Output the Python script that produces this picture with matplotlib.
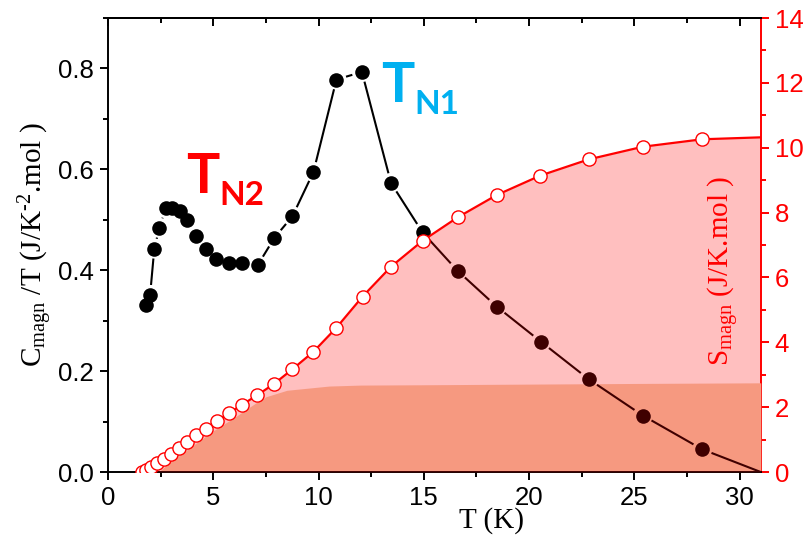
import numpy as np
import matplotlib
matplotlib.use("Agg")
import matplotlib.pyplot as plt
from matplotlib.collections import LineCollection
from matplotlib.ticker import MultipleLocator, FormatStrFormatter

# Magnetic specific heat C/T (left axis)
T_C = [1.79, 2.00, 2.20, 2.44, 2.74, 3.06, 3.41, 3.77, 4.17, 4.64, 5.15, 5.75,
       6.38, 7.11, 7.90, 8.76, 9.76, 10.85, 12.06, 13.44, 14.94, 16.60, 18.46,
       20.57, 22.83, 25.40, 28.22]
C_over_T = [0.331, 0.351, 0.443, 0.484, 0.523, 0.523, 0.518, 0.499, 0.468, 0.443,
            0.422, 0.414, 0.414, 0.410, 0.464, 0.507, 0.595, 0.778, 0.793, 0.573,
            0.475, 0.399, 0.328, 0.258, 0.184, 0.112, 0.045]
T_C_end, C_end = 31.0, 0.0

# Magnetic entropy (right axis)
T_S = [1.63, 1.82, 2.06, 2.35, 2.66, 3.00, 3.35, 3.74, 4.17, 4.64, 5.16, 5.74,
       6.38, 7.09, 7.89, 8.76, 9.76, 10.85, 12.09, 13.44, 14.94, 16.60, 18.46,
       20.53, 22.83, 25.40, 28.22]
S_magn = [0.01, 0.06, 0.14, 0.27, 0.40, 0.57, 0.74, 0.93, 1.14, 1.34, 1.57, 1.81,
          2.08, 2.37, 2.72, 3.17, 3.71, 4.45, 5.41, 6.33, 7.13, 7.85, 8.54,
          9.14, 9.64, 10.03, 10.26]
T_S_end, S_end = 31.0, 10.32

# Lower entropy contribution (shaded band)
T_band = [2.40, 3.0, 4.0, 5.0, 6.0, 7.0, 7.5, 8.5, 10.5, 12.0, 15.0, 20.0, 25.0, 31.0]
S_band = [0.0, 0.33, 0.80, 1.27, 1.68, 2.12, 2.32, 2.52, 2.65, 2.68, 2.69, 2.71, 2.73, 2.75]

W, H, DPI = 812, 549, 100
plt.rcParams["font.family"] = ["Liberation Sans", "DejaVu Sans"]
plt.rcParams["mathtext.fontset"] = "custom"
plt.rcParams["mathtext.rm"] = "Liberation Serif"
plt.rcParams["mathtext.it"] = "Liberation Serif:italic"

fig = plt.figure(figsize=(W / DPI, H / DPI), dpi=DPI)
ax = fig.add_axes([108 / W, 1 - 472 / H, (760.7 - 108) / W, (472 - 18) / H])
ax2 = ax.twinx()
ax3 = ax.twiny()

ax.set_xlim(0, 31)
ax.set_ylim(0, 0.9)
ax2.set_ylim(0, 14)
ax3.set_xlim(0, 31)
ax.autoscale(False)

# the left axes holds every mark; the right axes only provides the entropy scale
ax2.set_zorder(1)
ax.set_zorder(2)
ax3.set_zorder(3)
ax.patch.set_visible(False)
ax3.patch.set_visible(False)

RED = "#ff0000"
BAND_BASE = "#f4cdac"
S_tr = ax2.transData

# lower entropy band (tinted afterwards by the translucent overlay)
ax.fill_between(T_band, 0, S_band, color=BAND_BASE, lw=0, zorder=1,
                transform=S_tr)

fig.canvas.draw()


def gapped_segments(axis, x, y, gap_px, gap_last=True):
    pts = axis.transData.transform(np.column_stack([x, y]))
    inv = axis.transData.inverted()
    segs = []
    n = len(pts)
    for i in range(n - 1):
        p0, p1 = pts[i], pts[i + 1]
        d = p1 - p0
        L = np.hypot(*d)
        g0 = gap_px
        g1 = gap_px if (gap_last or i + 1 < n - 1) else 0.0
        if L <= g0 + g1:
            continue
        u = d / L
        segs.append(inv.transform([p0 + u * g0, p1 - u * g1]))
    return segs


# C/T curve with gaps around the markers
xs = list(T_C) + [T_C_end]
ys = list(C_over_T) + [C_end]
lc = LineCollection(gapped_segments(ax, xs, ys, 10.0, gap_last=False),
                    colors="black", linewidths=1.5, zorder=2)
ax.add_collection(lc)
ax.plot(T_C, C_over_T, ls="none", marker="o", ms=10.5, mfc="black",
        mec="black", mew=0, zorder=3)

# full entropy area as a translucent overlay
ax.fill_between(list(T_S) + [T_S_end], 0, list(S_magn) + [S_end],
                color=RED, alpha=0.25, lw=0, zorder=4, transform=S_tr)
ax.plot(list(T_S) + [T_S_end], list(S_magn) + [S_end], color=RED, lw=1.6,
        zorder=5, transform=S_tr)
ax.plot(T_S, S_magn, ls="none", marker="o", ms=9.5, mfc="white", mec=RED,
        mew=1.0, zorder=6, transform=S_tr)

# axes styling
TICK_FS = 18.5
LW = 1.4
for sp in ["left", "bottom", "top"]:
    ax.spines[sp].set_linewidth(LW)
ax.spines["right"].set_visible(False)
for sp in ["left", "bottom", "top"]:
    ax2.spines[sp].set_visible(False)
ax2.spines["right"].set_color(RED)
ax2.spines["right"].set_linewidth(LW)
for sp in ["left", "bottom", "right"]:
    ax3.spines[sp].set_visible(False)
ax3.spines["top"].set_linewidth(LW)

for a in (ax, ax3):
    a.xaxis.set_major_locator(MultipleLocator(5))
    a.xaxis.set_minor_locator(MultipleLocator(2.5))
ax.yaxis.set_major_locator(MultipleLocator(0.2))
ax.yaxis.set_minor_locator(MultipleLocator(0.1))
ax2.yaxis.set_major_locator(MultipleLocator(2))
ax2.yaxis.set_minor_locator(MultipleLocator(1))
ax.yaxis.set_major_formatter(FormatStrFormatter("%.1f"))

ax.tick_params(axis="x", which="both", direction="out", top=False,
               labelsize=TICK_FS, width=LW, pad=4)
ax.tick_params(axis="y", which="both", direction="out", right=False,
               labelsize=TICK_FS, width=LW, pad=4)
ax2.tick_params(axis="y", which="both", direction="out", colors=RED,
                labelsize=TICK_FS, width=LW, pad=4)
ax3.tick_params(axis="x", which="both", direction="in", labeltop=False,
                width=LW)
for a in (ax, ax2, ax3):
    a.tick_params(which="major", length=6)
    a.tick_params(which="minor", length=3.5)

LBL_FS = 21
ax.set_xlabel("T (K)", family="Liberation Serif", fontsize=LBL_FS)
ax.xaxis.set_label_coords(0.587, -0.078)
ax.set_ylabel(r"C$_{\mathregular{magn}}$ /T (J/K$^{\mathregular{\text{-}2}}$.mol )",
              family="Liberation Serif", fontsize=LBL_FS, labelpad=2)
ax.text(0.943, 0.443, r"S$_{\mathregular{magn}}$ (J/K.mol )", transform=ax.transAxes,
        family="Liberation Serif", fontsize=LBL_FS, color=RED, rotation=90,
        ha="center", va="center", zorder=7)

# transition labels
CYAN = "#00b0f0"
BOLD_SANS = ["Lato", "DejaVu Sans"]
ax.text(12.98, 0.733, "T", family=BOLD_SANS, weight="bold",
        fontsize=40, color=CYAN, va="baseline", ha="left", zorder=7)
ax.text(14.54, 0.709, "N1", family=BOLD_SANS, weight="bold",
        fontsize=24, color=CYAN, va="baseline", ha="left", zorder=7)
ax.text(3.71, 0.553, "T", family=BOLD_SANS, weight="bold",
        fontsize=40, color=RED, va="baseline", ha="left", zorder=7)
ax.text(5.28, 0.529, "N2", family=BOLD_SANS, weight="bold",
        fontsize=24, color=RED, va="baseline", ha="left", zorder=7)

fig.savefig("out.png", dpi=DPI)
